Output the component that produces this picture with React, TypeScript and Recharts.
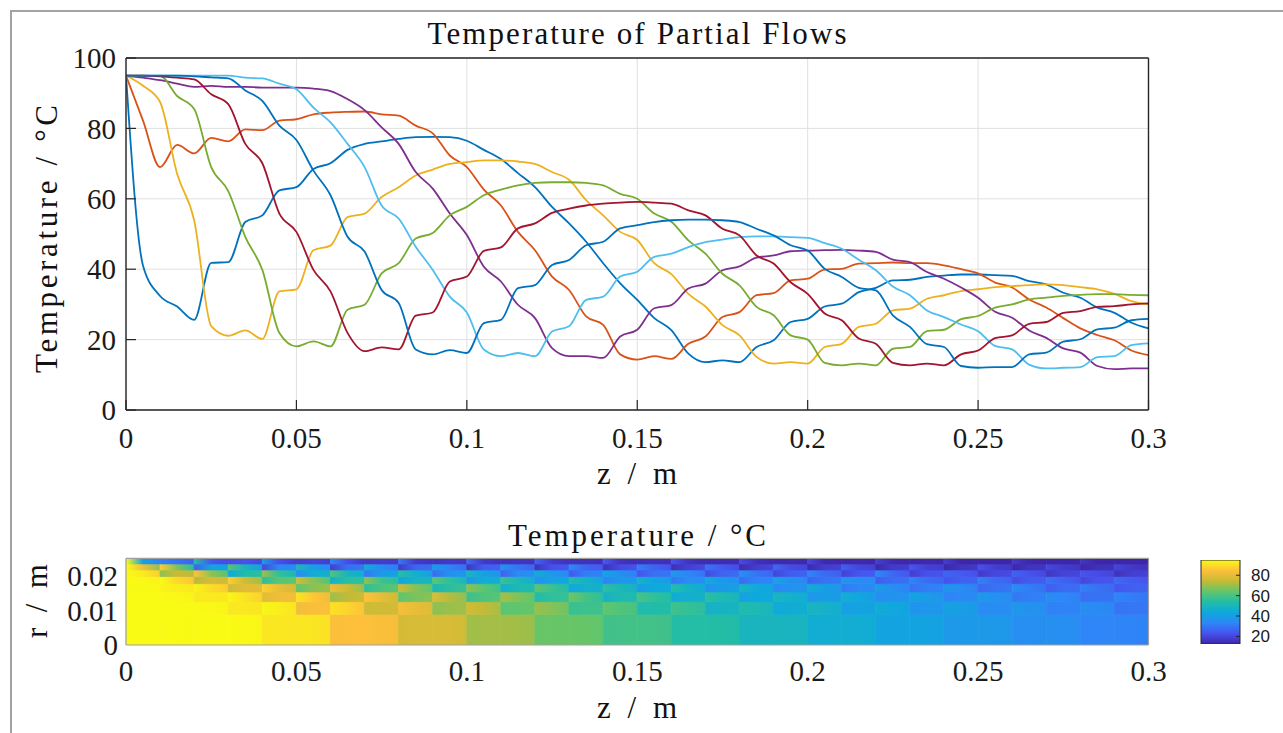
import React from 'react';
import { LineChart, Line, XAxis, YAxis, CartesianGrid, BarChart, Bar, Cell } from 'recharts';

// temperature of each partial flow in °C, sampled every 0.005 m from z = 0 to z = 0.3 m
const FLOW_1 = [
  95, 41, 32.4, 29.4, 25.6, 41.8, 42, 53.4, 55.3, 62.4,
  63.3, 68.5, 70.1, 73.9, 75.6, 76.3, 77, 77.5, 77.6, 77.5,
  76.5, 73.9, 71.3, 67.3, 63.3, 57.7, 53, 47.8, 41.7, 36,
  31.3, 26.1, 22.7, 16, 13.6, 14.1, 13.6, 17.9, 19.8, 25,
  25.9, 29.4, 30.2, 33.5, 34.7, 36.8, 37, 37.8, 38.2, 38.5,
  38.5, 38.3, 38.1, 36.6, 35.7, 33.3, 31.9, 29.1, 27.6, 24.8,
  23.2,
];
const FLOW_2 = [
  95, 82.2, 69, 75.3, 72.9, 77.3, 76.3, 79.7, 79.5, 82.2,
  82.6, 84, 84.5, 84.7, 84.8, 84, 83.6, 80.8, 78.6, 72.3,
  69, 62.6, 58.1, 50.6, 45.4, 37.9, 34.1, 26.6, 24.2, 15.8,
  14.3, 15.3, 14.5, 18.8, 20.9, 26.4, 27.8, 32.6, 33.2, 36.8,
  37.3, 39.9, 40.1, 41.6, 41.7, 41.9, 41.7, 41.7, 41.1, 40,
  38.8, 36.2, 34.8, 31.4, 29.1, 26.1, 23.2, 21.3, 19.8, 16.9,
  15.6,
];
const FLOW_3 = [
  95, 92.1, 87.5, 67.1, 53.9, 23.8, 21.1, 22.6, 20.2, 33.7,
  34.3, 45.4, 46.7, 54.8, 55.8, 60.5, 63.3, 66.6, 68.3, 69.9,
  70.4, 70.9, 70.9, 70.6, 69.9, 67.6, 65.4, 59.6, 55.3, 50.6,
  48.3, 41.7, 38.6, 33, 29.4, 24.1, 21.2, 15.1, 13.2, 13.6,
  13.2, 17.9, 18.8, 23.6, 24.5, 28.3, 28.8, 31.6, 32.6, 33.8,
  34.3, 34.9, 35.2, 35.5, 35.7, 35.5, 34.9, 34.3, 33, 30.9,
  30,
];
const FLOW_4 = [
  95, 94.4, 93.7, 92.7, 91.8, 92.1, 91.8, 91.8, 91.6, 91.6,
  91.6, 91.3, 90.6, 88.3, 85.2, 80.3, 75.6, 67.6, 62.9, 55.8,
  49.7, 40.7, 36.5, 29.9, 26.1, 17.6, 15.3, 15.3, 14.8, 20.9,
  22.8, 28.9, 29.8, 34.5, 35.9, 39.7, 40.8, 43.3, 43.9, 45.1,
  45.3, 45.4, 45.5, 45.3, 44.9, 42.7, 42, 39.2, 37.3, 34.8,
  31.9, 27.9, 26.2, 22.6, 20.5, 17.5, 16.3, 12.5, 11.6, 11.8,
  11.8,
];
const FLOW_5 = [
  95, 94.9, 94.9, 89.2, 85.5, 69, 62.2, 49.2, 39.8, 21.9,
  18.1, 19.5, 18.1, 28.5, 29.9, 38.8, 41.7, 48.7, 50.3, 55.3,
  57.7, 61, 62.6, 63.8, 64.5, 64.7, 64.7, 64.5, 63.8, 61.4,
  60, 55.8, 53.5, 48.2, 44.4, 38.7, 35.4, 29.3, 26.9, 21.2,
  20, 13.4, 12.7, 13.2, 12.7, 17.4, 17.9, 22.4, 22.8, 25.8,
  26.7, 29.1, 30, 31.4, 31.9, 32.4, 32.7, 32.9, 32.9, 32.7,
  32.6,
];
const FLOW_6 = [
  95, 95, 95, 95, 95, 95, 95, 94.4, 94.2, 92.7,
  91.1, 85.9, 81.7, 75.6, 69, 58.1, 54.4, 46.4, 39.8, 32.2,
  27.7, 17.2, 15.3, 16.2, 15.3, 22.3, 23.8, 31.3, 32.2, 37.9,
  39.3, 43.5, 44.4, 46.3, 47.7, 48.4, 49.1, 49.3, 49.3, 49.1,
  48.9, 47.4, 45.8, 42.7, 39.7, 35.1, 32.6, 28.3, 26.4, 24.3,
  22.4, 18.2, 17.2, 12.9, 11.8, 12, 12.2, 15, 15.3, 18.4,
  18.9,
];
const FLOW_7 = [
  95, 95, 94.8, 94.4, 93.9, 89.7, 86.9, 75.6, 70.1, 55.8,
  50.6, 39.8, 33.7, 21.9, 16.7, 17.8, 17.2, 26.8, 27.7, 36.5,
  37.9, 45.2, 46.2, 51.6, 53, 56, 57.2, 58.1, 58.6, 58.9,
  59.1, 58.9, 58.6, 56.7, 55.3, 51.5, 49.6, 43.9, 41.6, 36.3,
  33, 27.4, 25.5, 20.3, 18.8, 13.4, 12.7, 13.2, 12.7, 15.8,
  16.9, 20.4, 21.2, 24.5, 25, 27.6, 28.1, 29.3, 29.5, 30,
  30.3,
];
const FLOW_8 = [
  95, 95, 95, 95, 94.8, 94.5, 94.2, 90.8, 87.8, 80.8,
  76.7, 68, 61, 49.2, 45, 34.1, 30.4, 17.2, 15.8, 17,
  16.2, 24.7, 25.6, 34.6, 35.5, 41.2, 42.6, 46.8, 47.8, 51.6,
  52.5, 53.4, 53.9, 54.1, 54.1, 53.9, 53.4, 51.5, 49.6, 46.8,
  45.3, 40.1, 37.8, 34.7, 34, 26.9, 23.6, 18.7, 17.9, 12.5,
  12, 12.2, 12.2, 15.8, 16.3, 19.4, 20.1, 22.9, 23.4, 25.5,
  25.9,
];

const FLOWS = [FLOW_1, FLOW_2, FLOW_3, FLOW_4, FLOW_5, FLOW_6, FLOW_7, FLOW_8];
// MATLAB default colour order, wrapping round for the 8th flow
const FLOW_COLORS = ['#0072BD', '#D95319', '#EDB120', '#7E2F8E', '#77AC30', '#4DBEEE', '#A2142F', '#0072BD'];

const Z_STEP = 0.005;
const Z_TICKS = [0, 0.05, 0.1, 0.15, 0.2, 0.25, 0.3];
const T_TICKS = [0, 20, 40, 60, 80, 100];
const R_TICKS = [0, 0.01, 0.02];
const CB_TICKS = [20, 40, 60, 80];
const CB_RANGE = [12.5, 95];

// annulus edges in m, centre -> wall (equal-area rings)
const R_EDGES = [0, 0.00884, 0.0125, 0.01531, 0.01768, 0.01976, 0.02165, 0.02339, 0.025];
const SEGMENTS = 30; // 0.01 m each
// which flow sits in each ring (centre first) over the first segment;
// neighbouring rings swap at every segment boundary, alternating pairs
const START_ORDER = [7, 6, 5, 4, 3, 2, 1, 0];

const PARULA = ['#3e26a8', '#4752ee', '#2d87f7', '#0ea9dc', '#22bda7', '#62c66a', '#c6ba35', '#fdbf3a', '#f9fb14'];

const SERIF = '"Liberation Serif", "Times New Roman", serif';
const SANS = '"Liberation Sans", Arial, sans-serif';
const INK = '#262626';

const Z = FLOW_1.map((_, i) => +(i * Z_STEP).toFixed(3));
const lineData = Z.map((z, i) => {
  const row: Record<string, number> = { z };
  FLOWS.forEach((f, k) => (row['f' + k] = f[i]));
  return row;
});

const layouts: number[][] = [];
let order = START_ORDER.slice();
for (let j = 0; j < SEGMENTS; j++) {
  if (j > 0) {
    const next = order.slice();
    for (let p = j % 2 === 1 ? 1 : 0; p + 1 < order.length; p += 2) {
      next[p] = order[p + 1];
      next[p + 1] = order[p];
    }
    order = next;
  }
  layouts.push(order);
}

const heatData = layouts.map((_, j) => {
  const row: Record<string, number> = { col: j, zc: +(j * 0.01 + 0.005).toFixed(3) };
  for (let k = 0; k < 8; k++) row['a' + k] = R_EDGES[k + 1] - R_EDGES[k];
  return row;
});

const hex = (h: string) => [1, 3, 5].map((i) => parseInt(h.slice(i, i + 2), 16));
function parula(v: number) {
  const t = Math.min(1, Math.max(0, (v - CB_RANGE[0]) / (CB_RANGE[1] - CB_RANGE[0]))) * (PARULA.length - 1);
  const i = Math.min(PARULA.length - 2, Math.floor(t));
  const f = t - i;
  const a = hex(PARULA[i]);
  const b = hex(PARULA[i + 1]);
  return `rgb(${a.map((c, n) => Math.round(c + (b[n] - c) * f)).join(',')})`;
}

const fmt = (v: number) => String(v);
const tickFont = { fontFamily: SERIF, fontSize: 29, fill: '#1a1a1a' };

export default function App() {
  return (
    <div style={{ position: 'fixed', left: 0, top: 0, width: 1283, height: 733, overflow: 'hidden', background: '#fff' }}>
      <svg width={0} height={0} style={{ position: 'absolute' }}>
        <defs>
          <linearGradient id="parula-v" x1="0" y1="1" x2="0" y2="0">
            {PARULA.map((c, i) => (
              <stop key={i} offset={i / (PARULA.length - 1)} stopColor={c} />
            ))}
          </linearGradient>
          {layouts.map((lay, j) =>
            lay.map((flow, k) => (
              <linearGradient key={`${k}-${j}`} id={`hm-${k}-${j}`} x1="0" y1="0" x2="1" y2="0">
                <stop offset="0" stopColor={parula(FLOWS[flow][2 * j])} />
                <stop offset="0.5" stopColor={parula(FLOWS[flow][2 * j + 1])} />
                <stop offset="1" stopColor={parula(FLOWS[flow][2 * j + 2])} />
              </linearGradient>
            ))
          )}
        </defs>
      </svg>

      <div style={{ position: 'absolute', left: 10, top: 10, width: 1400, height: 800, border: '2.5px solid #a3a3a3' }} />

      <div style={{ position: 'absolute', left: 0, top: 0 }}>
        <LineChart width={1283} height={500} data={lineData} margin={{ top: 28, right: 74.5, left: 66, bottom: 60 }}>
          <CartesianGrid stroke="#e0e0e0" strokeWidth={1} />
          {FLOWS.map((_, k) => (
            <Line
              key={k}
              type="monotone"
              dataKey={'f' + k}
              stroke={FLOW_COLORS[k]}
              strokeWidth={1.8}
              dot={false}
              isAnimationActive={false}
            />
          ))}
          <XAxis
            dataKey="z"
            type="number"
            domain={[0, 0.3]}
            ticks={Z_TICKS}
            interval={0}
            tickFormatter={fmt}
            height={30}
            tickSize={-10}
            tickMargin={27}
            tick={tickFont}
            axisLine={{ stroke: INK, strokeWidth: 1.4 }}
            tickLine={{ stroke: INK, strokeWidth: 1.2 }}
            allowDataOverflow
          />
          <XAxis
            xAxisId="top"
            orientation="top"
            type="number"
            domain={[0, 0.3]}
            ticks={Z_TICKS}
            interval={0}
            height={30}
            tickSize={-10}
            tick={false}
            axisLine={{ stroke: INK, strokeWidth: 1.4 }}
            tickLine={{ stroke: INK, strokeWidth: 1.2 }}
            allowDataOverflow
          />
          <YAxis
            type="number"
            domain={[0, 100]}
            ticks={T_TICKS}
            interval={0}
            width={60}
            tickSize={-10}
            tickMargin={20}
            tick={tickFont}
            axisLine={{ stroke: INK, strokeWidth: 1.4 }}
            tickLine={{ stroke: INK, strokeWidth: 1.2 }}
            allowDataOverflow
          />
          <YAxis
            yAxisId="right"
            orientation="right"
            type="number"
            domain={[0, 100]}
            ticks={T_TICKS}
            interval={0}
            width={60}
            tickSize={-10}
            tick={false}
            axisLine={{ stroke: INK, strokeWidth: 1.4 }}
            tickLine={{ stroke: INK, strokeWidth: 1.2 }}
            allowDataOverflow
          />
        </LineChart>
      </div>

      <div style={{ position: 'absolute', left: 0, top: 500 }}>
        <BarChart
          width={1283}
          height={233}
          data={heatData}
          barCategoryGap={0}
          barGap={0}
          margin={{ top: 57.3, right: 133.5, left: 66, bottom: 58 }}
        >
          <XAxis
            xAxisId="num"
            dataKey="zc"
            type="number"
            domain={[0, 0.3]}
            ticks={Z_TICKS}
            interval={0}
            tickFormatter={fmt}
            height={30}
            tickSize={0}
            tickMargin={15}
            tickLine={false}
            tick={tickFont}
            axisLine={{ stroke: '#a0a0a0', strokeWidth: 1.2 }}
            allowDataOverflow
          />
          <XAxis dataKey="col" hide height={0} />
          {START_ORDER.map((_, k) => (
            <Bar key={k} dataKey={'a' + k} stackId="r" isAnimationActive={false}>
              {layouts.map((__, j) => (
                <Cell key={j} fill={`url(#hm-${k}-${j})`} stroke={`url(#hm-${k}-${j})`} strokeWidth={0.8} />
              ))}
            </Bar>
          ))}
          <XAxis
            xAxisId="top"
            orientation="top"
            type="number"
            domain={[0, 0.3]}
            height={1}
            tick={false}
            tickLine={false}
            axisLine={{ stroke: '#a0a0a0', strokeWidth: 1.2 }}
            allowDataOverflow
          />
          <YAxis
            type="number"
            domain={[0, 0.025]}
            ticks={R_TICKS}
            interval={0}
            tickFormatter={fmt}
            width={60}
            tickSize={0}
            tickMargin={8}
            tickLine={false}
            tick={tickFont}
            axisLine={{ stroke: '#a0a0a0', strokeWidth: 1.2 }}
            allowDataOverflow
          />
          <YAxis
            yAxisId="right"
            orientation="right"
            type="number"
            domain={[0, 0.025]}
            width={1}
            tick={false}
            tickLine={false}
            axisLine={{ stroke: '#a0a0a0', strokeWidth: 1.2 }}
            allowDataOverflow
          />
        </BarChart>
      </div>

      <div style={{ position: 'absolute', left: 1190, top: 540 }}>
        <BarChart
          width={93}
          height={120}
          data={[{ name: 'scale', span: CB_RANGE }]}
          barCategoryGap={0}
          margin={{ top: 20, right: 3, left: 11, bottom: 16 }}
        >
          <XAxis dataKey="name" hide height={0} />
          <Bar dataKey="span" fill="url(#parula-v)" stroke={INK} strokeWidth={1} isAnimationActive={false} />
          <YAxis
            orientation="right"
            type="number"
            domain={CB_RANGE}
            ticks={CB_TICKS}
            interval={0}
            width={40}
            axisLine={false}
            tickSize={-4}
            tickMargin={15}
            tick={{ fontFamily: SANS, fontSize: 17, fill: '#1a1a1a' }}
            tickLine={{ stroke: INK, strokeWidth: 1 }}
            allowDataOverflow
          />
        </BarChart>
      </div>

      <svg width={1283} height={733} style={{ position: 'absolute', left: 0, top: 0, pointerEvents: 'none' }}>
        <g fontFamily={SERIF} fill="#111">
          <text x={637} y={43.5} fontSize={31} textAnchor="middle" textLength={419} lengthAdjust="spacing">
            Temperature of Partial Flows
          </text>
          <text transform="translate(56.5,239) rotate(-90)" fontSize={31} textAnchor="middle" textLength={268} lengthAdjust="spacing">
            Temperature / °C
          </text>
          <text x={637} y={484} fontSize={31} textAnchor="middle" textLength={80} lengthAdjust="spacing">
            z / m
          </text>
          <text x={637} y={546} fontSize={31} textAnchor="middle" textLength={258} lengthAdjust="spacing">
            Temperature / °C
          </text>
          <text x={637} y={718} fontSize={31} textAnchor="middle" textLength={80} lengthAdjust="spacing">
            z / m
          </text>
          <text transform="translate(47,601) rotate(-90)" fontSize={31} textAnchor="middle" textLength={74} lengthAdjust="spacing">
            r / m
          </text>
        </g>
      </svg>
    </div>
  );
}
